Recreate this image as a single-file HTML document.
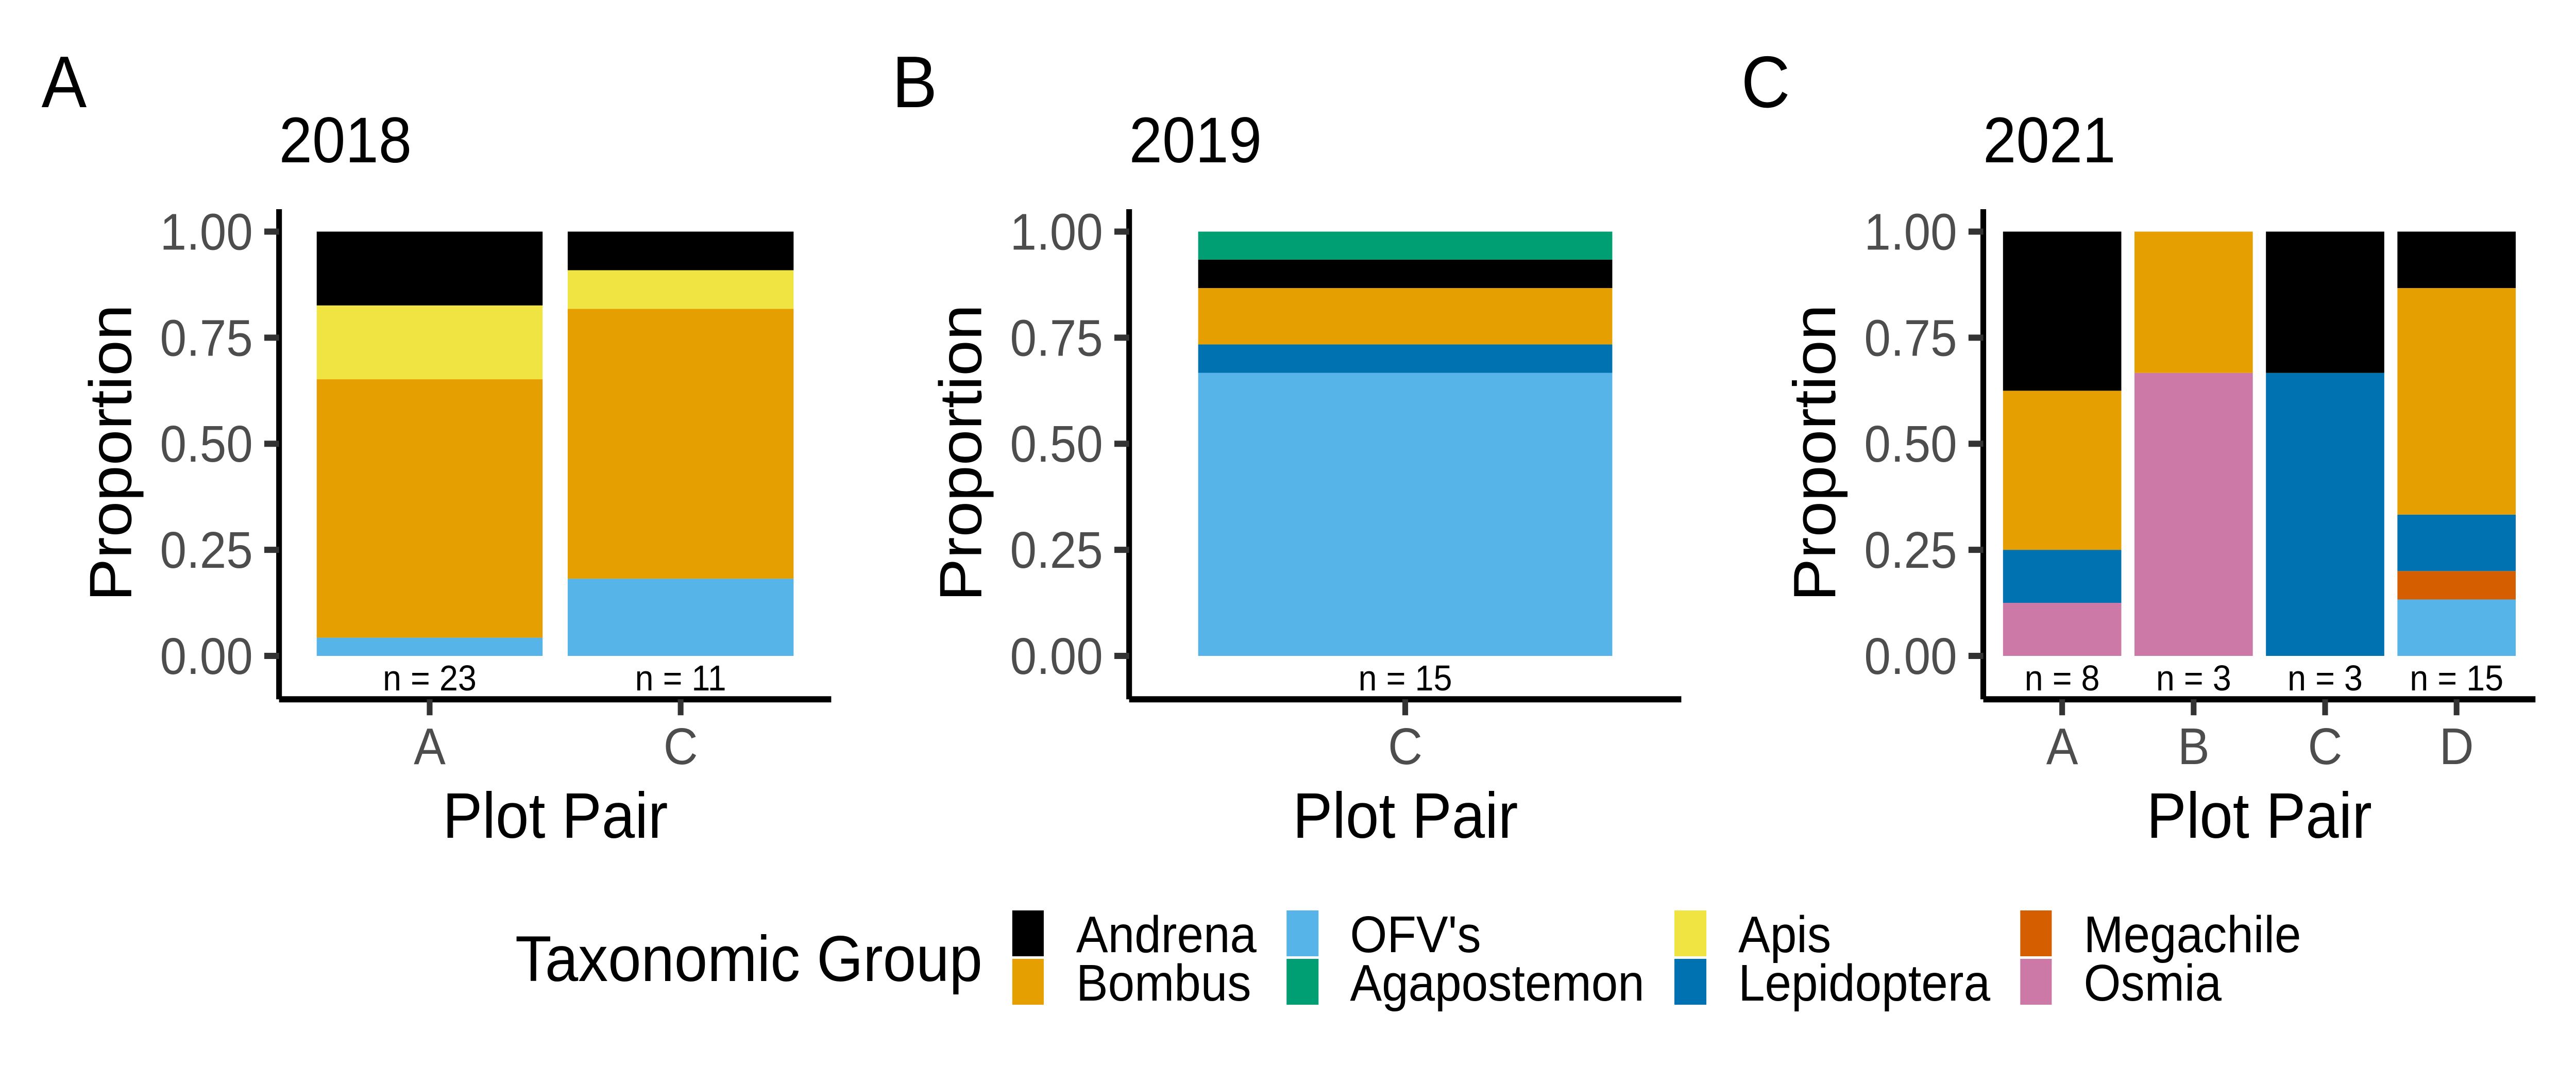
<!DOCTYPE html>
<html lang="en">
<head>
<meta charset="utf-8">
<title>Taxonomic group proportions by plot pair</title>
<style>
html,body{margin:0;padding:0;background:#fff;width:100%;height:100%;overflow:hidden;}
svg{display:block;position:fixed;left:0;top:0;width:100vw;height:100vh;font-family:"Liberation Sans",Arial,sans-serif;}
</style>
</head>
<body>
<svg id="figure" xmlns="http://www.w3.org/2000/svg" viewBox="0 0 5400 2100" preserveAspectRatio="none">
  <rect x="0" y="0" width="5400" height="2100" fill="#ffffff"/>

  <text x="87" y="208" font-size="142">A</text>
  <text x="1870" y="208" font-size="142">B</text>
  <text x="3650" y="208" font-size="142">C</text>

  <text x="585" y="315" font-size="125">2018</text>
  <text x="2367" y="315" font-size="125">2019</text>
  <text x="4157" y="315" font-size="125">2021</text>

  <text transform="translate(275 879) rotate(-90)" text-anchor="middle" font-size="125">Proportion</text>
  <text transform="translate(2057 879) rotate(-90)" text-anchor="middle" font-size="125">Proportion</text>
  <text transform="translate(3847 879) rotate(-90)" text-anchor="middle" font-size="125">Proportion</text>

  <text x="1164" y="1626" text-anchor="middle" font-size="125">Plot Pair</text>
  <text x="2946" y="1626" text-anchor="middle" font-size="125">Plot Pair</text>
  <text x="4736" y="1626" text-anchor="middle" font-size="125">Plot Pair</text>

  <g id="panels"></g>

  <g>
    <text x="1080" y="1904" font-size="125">Taxonomic Group</text>

    <rect x="2122" y="1767" width="66" height="89" fill="#000000"/>
    <text x="2256" y="1848" font-size="100">Andrena</text>
    <rect x="2122" y="1861" width="66" height="89" fill="#E69F00"/>
    <text x="2256" y="1942" font-size="100">Bombus</text>

    <rect x="2697" y="1767" width="67" height="89" fill="#56B4E9"/>
    <text x="2830" y="1848" font-size="100">OFV's</text>
    <rect x="2697" y="1861" width="67" height="89" fill="#009E73"/>
    <text x="2830" y="1942" font-size="100">Agapostemon</text>

    <rect x="3510" y="1767" width="67" height="89" fill="#F0E442"/>
    <text x="3644" y="1848" font-size="100">Apis</text>
    <rect x="3510" y="1861" width="67" height="89" fill="#0072B2"/>
    <text x="3644" y="1942" font-size="100">Lepidoptera</text>

    <rect x="4235" y="1767" width="66" height="89" fill="#D55E00"/>
    <text x="4368" y="1848" font-size="100">Megachile</text>
    <rect x="4235" y="1861" width="66" height="89" fill="#CC79A7"/>
    <text x="4368" y="1942" font-size="100">Osmia</text>
  </g>
</svg>

<script>
// Axis ticks
const yTickValues = [0, 0.25, 0.5, 0.75, 1];
const yTickLabels = ["0.00", "0.25", "0.50", "0.75", "1.00"];

// 2018
const categories2018 = ["A", "C"];
const sampleSizes2018 = [23, 11];
const ofv2018 = [0.043, 0.182];
const bombus2018 = [0.609, 0.636];
const apis2018 = [0.174, 0.091];
const andrena2018 = [0.174, 0.091];

// 2019
const categories2019 = ["C"];
const sampleSizes2019 = [15];
const ofv2019 = [0.667];
const lepidoptera2019 = [0.067];
const bombus2019 = [0.133];
const andrena2019 = [0.067];
const agapostemon2019 = [0.066];

// 2021
const categories2021 = ["A", "B", "C", "D"];
const sampleSizes2021 = [8, 3, 3, 15];
const osmia2021 = [0.125, 0.667, 0, 0];
const ofv2021 = [0, 0, 0, 0.133];
const megachile2021 = [0, 0, 0, 0.067];
const lepidoptera2021 = [0.125, 0, 0.667, 0.133];
const bombus2021 = [0.375, 0.333, 0, 0.534];
const andrena2021 = [0.375, 0, 0.333, 0.133];

const speciesColors = {
  andrena: "#000000", bombus: "#E69F00", ofv: "#56B4E9", agapostemon: "#009E73",
  apis: "#F0E442", lepidoptera: "#0072B2", megachile: "#D55E00", osmia: "#CC79A7"
};

const SVG_NS = "http://www.w3.org/2000/svg";
const AXIS_TOP = 406;
const AXIS_BOTTOM = 1357.3;
const Y_ZERO = 1273;
const Y_ONE = 449.5;
const PANEL_WIDTH = 1157.5;
const BAR_FRACTION = 0.9;
const DISCRETE_EXPAND = 0.6;

function yScale(value) {
  return Y_ZERO + (Y_ONE - Y_ZERO) * value;
}
function bandUnit(count) {
  return PANEL_WIDTH / (count - 1 + 2 * DISCRETE_EXPAND);
}
function xScale(left, index, count) {
  return left + (index + DISCRETE_EXPAND) * bandUnit(count);
}
function make(tag, parent, attrs, text) {
  const el = document.createElementNS(SVG_NS, tag);
  for (const key in attrs) el.setAttribute(key, attrs[key]);
  if (text !== undefined) el.textContent = text;
  parent.appendChild(el);
  return el;
}

function drawPanel(year, left, categories, sampleSizes, stack) {
  const root = document.getElementById("panels");
  const group = make("g", root, {});
  
  

  const count = categories.length;
  const barWidth = BAR_FRACTION * bandUnit(count);

  categories.forEach(function (category, i) {
    const cx = xScale(left, i, count);
    let cumulative = 0;
    stack.forEach(function (layer) {
      const value = layer.values[i];
      if (value > 0) {
        const top = yScale(cumulative + value);
        const bottom = yScale(cumulative);
        const bar = make("rect", group, {
          x: cx - barWidth / 2, y: top, width: barWidth, height: bottom - top,
          fill: speciesColors[layer.name]
        });
        
        
      }
      cumulative += value;
    });

    const nLabel = make("text", group, {
      x: cx, y: 1340, "text-anchor": "middle", "font-size": 70, fill: "#000000"
    }, "n = " + sampleSizes[i]);
    
    

    const xTickLabel = make("text", group, {
      x: cx, y: 1483, "text-anchor": "middle", "font-size": 100, fill: "#4D4D4D"
    }, category);
    
    
  });

  yTickValues.forEach(function (value, i) {
    const label = make("text", group, {
      x: left - 55, y: yScale(value) + 35, "text-anchor": "end", "font-size": 100, fill: "#4D4D4D"
    }, yTickLabels[i]);
    
    
  });

  const yAxis = make("line", group, {
    x1: left, x2: left, y1: AXIS_TOP, y2: AXIS_BOTTOM, stroke: "#000000", "stroke-width": 12
  });
  
  

  const xAxis = make("line", group, {
    x1: left, x2: left + PANEL_WIDTH, y1: AXIS_BOTTOM, y2: AXIS_BOTTOM, stroke: "#000000", "stroke-width": 12
  });
  
  

  yTickValues.forEach(function (value, i) {
    const tick = make("line", group, {
      x1: left - 31, x2: left, y1: yScale(value), y2: yScale(value), stroke: "#333333", "stroke-width": 12
    });
    
    
  });

  categories.forEach(function (category, i) {
    const cx = xScale(left, i, count);
    const tick = make("line", group, {
      x1: cx, x2: cx, y1: AXIS_BOTTOM, y2: 1388.3, stroke: "#333333", "stroke-width": 12
    });
    
    
  });
}

drawPanel("2018", 585, categories2018, sampleSizes2018, [
  { name: "ofv", values: ofv2018 },
  { name: "bombus", values: bombus2018 },
  { name: "apis", values: apis2018 },
  { name: "andrena", values: andrena2018 }
]);
drawPanel("2019", 2367, categories2019, sampleSizes2019, [
  { name: "ofv", values: ofv2019 },
  { name: "lepidoptera", values: lepidoptera2019 },
  { name: "bombus", values: bombus2019 },
  { name: "andrena", values: andrena2019 },
  { name: "agapostemon", values: agapostemon2019 }
]);
drawPanel("2021", 4157.5, categories2021, sampleSizes2021, [
  { name: "osmia", values: osmia2021 },
  { name: "ofv", values: ofv2021 },
  { name: "megachile", values: megachile2021 },
  { name: "lepidoptera", values: lepidoptera2021 },
  { name: "bombus", values: bombus2021 },
  { name: "andrena", values: andrena2021 }
]);
</script>
</body>
</html>
